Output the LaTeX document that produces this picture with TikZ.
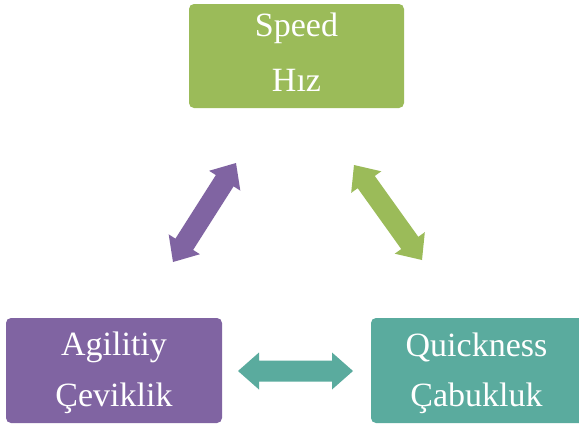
\documentclass[tikz,border=0pt]{standalone}
\usepackage{fontspec}
\setmainfont{Liberation Serif}
\usetikzlibrary{calc}

\definecolor{speedgreen}{HTML}{9BBB59}
\definecolor{agilepurple}{HTML}{8064A2}
\definecolor{quickteal}{HTML}{5AAB9E}

\tikzset{
  card/.style={rounded corners=5pt, inner sep=0pt, draw=none,
               minimum width=215pt, minimum height=104pt},
  caption/.style={text=white, font=\fontsize{34}{40}\selectfont,
                  inner sep=0pt, anchor=base},
}

% Block double arrow between two tips: #1 name prefix, #2 and #3 tips, #4 colour
\newcommand\twowayarrow[4]{%
  \coordinate (#1-h1) at ($(#2)!21pt!(#3)$);
  \coordinate (#1-h2) at ($(#3)!21pt!(#2)$);
  \fill[#4] (#2)
    -- ($(#1-h1)!18.5pt!90:(#3)$) -- ($(#1-h1)!10.5pt!90:(#3)$)
    -- ($(#1-h2)!10.5pt!-90:(#2)$) -- ($(#1-h2)!18.5pt!-90:(#2)$)
    -- (#3)
    -- ($(#1-h2)!18.5pt!90:(#2)$) -- ($(#1-h2)!10.5pt!90:(#2)$)
    -- ($(#1-h1)!10.5pt!-90:(#3)$) -- ($(#1-h1)!18.5pt!-90:(#3)$)
    -- cycle;
}

\begin{document}
\begin{tikzpicture}[x=1pt, y=-1pt]
  \clip (0,0) rectangle (579,426);
  \fill[white] (0,0) rectangle (579,426);

  % the three cards
  \node[card, fill=speedgreen] (speed) at (296.5,56) {};
  \node[card, fill=agilepurple, minimum width=216pt, minimum height=105pt] (agility) at (114,370.5) {};
  \node[card, fill=quickteal, minimum width=213pt, minimum height=105pt] (quick) at (477.5,370.5) {};

  % captions
  \node[caption] (speedA) at (296.5,36) {Speed};
  \node[caption] (speedB) at (296.5,91) {Hız};
  \node[caption] (agilityA) at (114,355) {Agilitiy};
  \node[caption] (agilityB) at (114,406) {Çeviklik};
  \node[caption] (quickA) at (476.5,356) {Quickness};
  \node[caption] (quickB) at (476.5,406) {Çabukluk};

  % arrow tips between the cards
  \coordinate (pA) at (173,262);
  \coordinate (pB) at (236,163);
  \coordinate (gA) at (354,165);
  \coordinate (gB) at (422,260);
  \coordinate (tA) at (238,371);
  \coordinate (tB) at (353,371);

  \twowayarrow{purple}{pA}{pB}{agilepurple}
  \twowayarrow{green}{gA}{gB}{speedgreen}
  \twowayarrow{teal}{tA}{tB}{quickteal}
\end{tikzpicture}
\end{document}
